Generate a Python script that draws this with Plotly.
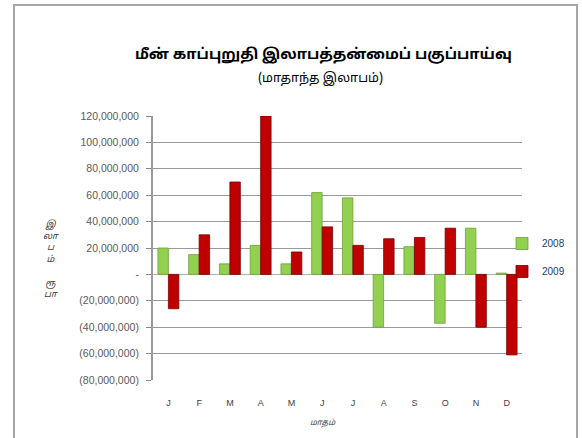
import plotly.graph_objects as go

months = ["J", "F", "M", "A", "M", "J", "J", "A", "S", "O", "N", "D"]
month_ids = ["Jan", "Feb", "Mar", "Apr", "May", "Jun", "Jul", "Aug", "Sep", "Oct", "Nov", "Dec"]
profit_2008 = [20000000, 15000000, 8000000, 22000000, 8000000, 62000000, 58000000,
               -40000000, 21000000, -37000000, 35000000, 1000000]
profit_2009 = [-26000000, 30000000, 70000000, 120000000, 17000000, 36000000, 22000000,
               27000000, 28000000, 35000000, -40000000, -61000000]
y_tickvals = [120000000, 100000000, 80000000, 60000000, 40000000, 20000000, 0,
              -20000000, -40000000, -60000000, -80000000]
y_ticktext = ["120,000,000", "100,000,000", "80,000,000", "60,000,000", "40,000,000",
              "20,000,000", "-", "(20,000,000)", "(40,000,000)", "(60,000,000)", "(80,000,000)"]

title_text = "மீன் காப்புறுதி இலாபத்தன்மைப் பகுப்பாய்வு"
subtitle_text = "(மாதாந்த இலாபம்)"
y_title = "இ<br>லா<br>ப<br>ம்<br><br>ரூ<br>பா"
x_title = "மாதம்"

W, H = 582, 438
L, R, T, B = 153, 60, 116, 58
pw, ph = W - L - R, H - T - B

TAMIL = "Noto Sans Tamil UI, Noto Sans Tamil, Lohit Tamil, Noto Serif Tamil, sans-serif"

def px_x(p):
    return (p - L) / pw

def px_y(p):
    return (H - B - p) / ph

fig = go.Figure()
fig.add_trace(go.Bar(x=month_ids, y=profit_2008, name="2008",
                     marker=dict(color="#92D050", line=dict(color="#6E9E3A", width=0.8)),
                     legendgroup="a"))
fig.add_trace(go.Bar(x=month_ids, y=profit_2009, name="2009",
                     marker=dict(color="#C00000", line=dict(color="#7A0000", width=0.8)),
                     legendgroup="b"))

fig.update_layout(
    width=W, height=H,
    margin=dict(l=L, r=R, t=T, b=B),
    paper_bgcolor="white", plot_bgcolor="white",
    barmode="group", bargap=0.32, bargroupgap=0.0,
    font=dict(family="Liberation Sans, Noto Sans, sans-serif", color="#404040"),
    showlegend=True,
    legend=dict(x=px_x(570), xanchor="right", y=px_y(229), yanchor="top",
                font=dict(size=10, color="#1F3864"), itemwidth=30,
                tracegroupgap=9, bgcolor="rgba(0,0,0,0)"),
    xaxis=dict(tickmode="array", tickvals=month_ids, ticktext=months,
               tickfont=dict(size=9, color="#404040"),
               ticks="outside", ticklen=14, tickcolor="rgba(0,0,0,0)",
               showline=False, showgrid=False, zeroline=False),
    yaxis=dict(range=[-80000000, 120000000], tickmode="array",
               tickvals=y_tickvals, ticktext=y_ticktext,
               tickfont=dict(size=10.5, color="#595959"),
               ticks="outside", ticklen=5, tickcolor="#868686",
               ticklabelstandoff=5,
               showline=True, linecolor="#9A9A9A", linewidth=2,
               showgrid=True, gridcolor="#9A9A9A", gridwidth=1,
               zeroline=True, zerolinecolor="#B0B0B0", zerolinewidth=1),
)

fig.add_annotation(text="<b>" + title_text + "</b>", xref="paper", yref="paper",
                   x=px_x(323), y=px_y(55), xanchor="center", yanchor="middle",
                   showarrow=False, font=dict(size=14.8, color="#000000", family=TAMIL))
fig.add_annotation(text=subtitle_text, xref="paper", yref="paper",
                   x=px_x(320), y=px_y(79), xanchor="center", yanchor="middle",
                   showarrow=False, font=dict(size=12.7, color="#000000", family=TAMIL))
fig.add_annotation(text="<i>" + y_title + "</i>", xref="paper", yref="paper",
                   x=px_x(51), y=px_y(259), xanchor="center", yanchor="middle",
                   showarrow=False, font=dict(size=9, color="#404040", family=TAMIL))
fig.add_annotation(text="<i>" + x_title + "</i>", xref="paper", yref="paper",
                   x=px_x(323), y=px_y(423), xanchor="center", yanchor="middle",
                   showarrow=False, font=dict(size=8, color="#404040", family=TAMIL))

fig.add_shape(type="rect", xref="paper", yref="paper",
              x0=px_x(14), x1=px_x(577), y0=px_y(470), y1=px_y(5),
              line=dict(color="#A6A6A6", width=2), layer="below")

fig.write_html("out.html", config={"displayModeBar": False},
               post_script="document.body.style.margin='0';")
